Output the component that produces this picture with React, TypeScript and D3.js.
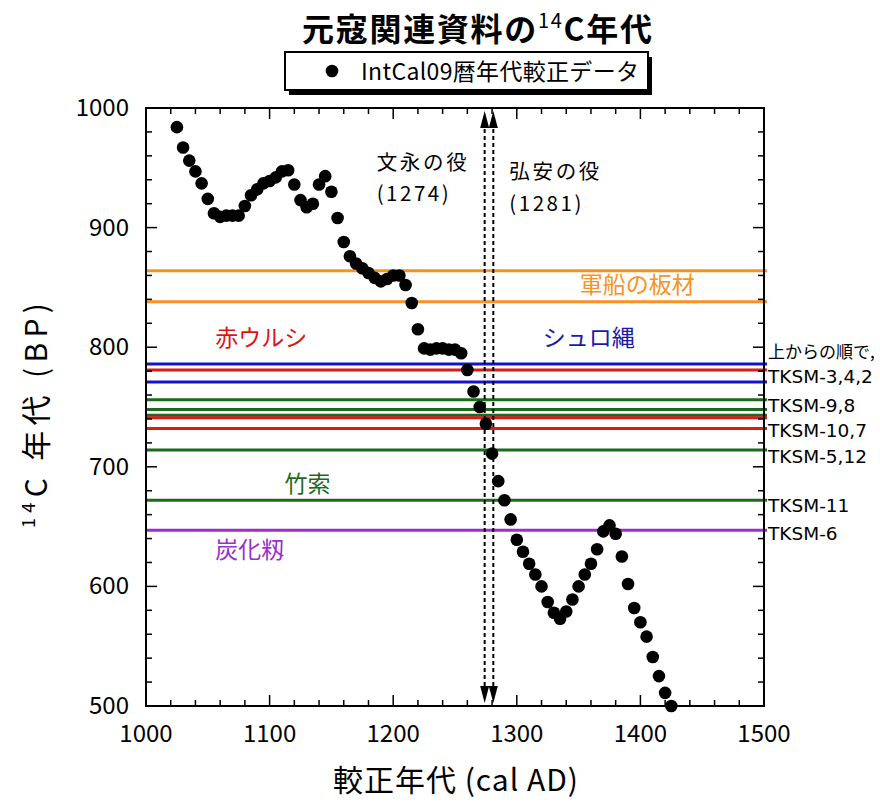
import React from 'react';
import * as d3 from 'd3';

// IntCal09 calibration points (cal AD, 14C BP)
const calYears = [
  1025, 1030, 1035, 1040, 1045, 1050, 1055, 1060, 1065, 1070, 1075, 1080, 1085, 1090, 1095, 1100,
  1105, 1110, 1115, 1120, 1125, 1130, 1135, 1140, 1145, 1150, 1155, 1160, 1165, 1170, 1175, 1180,
  1185, 1190, 1195, 1200, 1205, 1210, 1215, 1220, 1225, 1230, 1235, 1240, 1245, 1250, 1255, 1260,
  1265, 1270, 1275, 1280, 1285, 1290, 1295, 1300, 1305, 1310, 1315, 1320, 1325, 1330, 1335, 1340,
  1345, 1350, 1355, 1360, 1365, 1370, 1375, 1380, 1385, 1390, 1395, 1400, 1405, 1410, 1415, 1420,
  1425,
];
const bpValues = [
  984, 967, 956, 947, 937, 924, 912, 909, 910, 910, 910, 918, 927, 932, 937, 939,
  942, 947, 948, 936, 923, 917, 920, 936, 943, 930, 908, 888, 876, 870, 866, 862,
  858, 855, 857, 860, 860, 852, 837, 815, 799, 798, 799, 799, 798, 798, 795, 781,
  763, 750, 736, 711, 688, 672, 656, 639, 629, 619, 610, 600, 587, 578, 573, 579,
  589, 600, 610, 619, 631, 646, 651, 644, 625, 602, 582, 570, 558, 541, 525, 511,
  500,
];

// sample 14C ages by material
const shipPlank = [864, 838];
const palmRope = [786, 771];
const redLacquer = [781, 741, 732];
const bambooRope = [756, 748, 743, 714, 672];
const charredRice = [647];

// battles (cal AD)
const battleYears = [1274, 1281];
const battleNames = ['文永の役', '弘安の役'];

// right-hand labels: text and the BP level they sit at
const sideNote = '上からの順で,';
const sideLabels = ['TKSM-3,4,2', 'TKSM-9,8', 'TKSM-10,7', 'TKSM-5,12', 'TKSM-11', 'TKSM-6'];
const sideLabelBP = [770, 746, 725, 703, 662, 639];

const xTicks = [1000, 1100, 1200, 1300, 1400, 1500];
const yTicks = [500, 600, 700, 800, 900, 1000];

const FONT = "'Noto Sans CJK JP', 'Noto Sans', sans-serif";

const left = 146, right = 764, top = 108, bottom = 706;

export default function App() {
  const x = d3.scaleLinear().domain([1000, 1500]).range([left, right]);
  const y = d3.scaleLinear().domain([500, 1000]).range([bottom, top]);

  const minorX = d3.range(1000, 1501, 20);
  const minorY = d3.range(500, 1001, 20);

  const groups = [
    { vals: shipPlank, color: '#f7931e', text: '#f7931e', name: '軍船の板材', at: [1351, 845] },
    { vals: palmRope, color: '#1515c8', text: '#1a1aa8', name: 'シュロ縄', at: [1321, 801] },
    { vals: bambooRope, color: '#1c6b1c', text: '#1c6b1c', name: '竹索', at: [1112, 679] },
    { vals: redLacquer, color: '#e01818', text: '#dd1414', name: '赤ウルシ', at: [1056, 801] },
    { vals: charredRice, color: '#9a2fd0', text: '#9a2fd0', name: '炭化籾', at: [1056, 624] },
  ];

  return (
    <div style={{ position: 'absolute', left: 0, top: 0 }}>
      <svg width={880} height={805} style={{ display: 'block', fontFamily: FONT }}>
        <rect width={880} height={805} fill="#fff" />

        {/* title */}
        <text x={302} y={41} fontSize={32} fontWeight="bold" fill="#000" textLength={350} lengthAdjust="spacing">
          元寇関連資料の<tspan fontSize={20} fontWeight="normal" dy={-13}>14</tspan>
          <tspan dy={13}>C年代</tspan>
        </text>

        {/* legend */}
        <rect x={289} y={57} width={363} height={38} fill="#000" />
        <rect x={285} y={52} width={363} height={38} fill="#fff" stroke="#000" strokeWidth={2} />
        <circle cx={332} cy={71} r={6.3} fill="#000" />
        <text x={361} y={80} fontSize={23} fill="#000" textLength={278} lengthAdjust="spacing">IntCal09暦年代較正データ</text>

        {/* horizontal sample lines */}
        {groups.map((g) =>
          g.vals.map((v, i) => (
            <line key={g.name + i} x1={left} x2={right + 3} y1={y(v)} y2={y(v)} stroke={g.color} strokeWidth={3} />
          ))
        )}
        {groups.map((g) => (
          <text key={g.name} x={x(g.at[0])} y={y(g.at[1])} fontSize={23} fill={g.text}>
            {g.name}
          </text>
        ))}

        {/* battle markers */}
        {battleYears.map((yr) => (
          <g key={yr}>
            <line x1={x(yr)} x2={x(yr)} y1={top + 14} y2={bottom - 14} stroke="#000" strokeWidth={2} strokeDasharray="4,3" />
            <path d={`M${x(yr)},${top + 3} L${x(yr) - 4.5},${top + 20} L${x(yr) + 4.5},${top + 20} Z`} fill="#000" />
            <path d={`M${x(yr)},${bottom - 3} L${x(yr) - 4.5},${bottom - 20} L${x(yr) + 4.5},${bottom - 20} Z`} fill="#000" />
          </g>
        ))}
        <text x={x(battleYears[0]) - 108} y={170} fontSize={20.5} fill="#000" textLength={90} lengthAdjust="spacing">{battleNames[0]}</text>
        <text x={x(battleYears[0]) - 108} y={201} fontSize={20.5} fill="#000" textLength={72} lengthAdjust="spacing">({battleYears[0]})</text>
        <text x={x(battleYears[1]) + 16} y={179} fontSize={20.5} fill="#000" textLength={90} lengthAdjust="spacing">{battleNames[1]}</text>
        <text x={x(battleYears[1]) + 16} y={211} fontSize={20.5} fill="#000" textLength={72} lengthAdjust="spacing">({battleYears[1]})</text>

        {/* data points */}
        {calYears.map((yr, i) => (
          <circle key={yr} cx={x(yr)} cy={y(bpValues[i])} r={6.3} fill="#000" />
        ))}

        {/* frame and ticks */}
        <rect x={left} y={top} width={right - left} height={bottom - top} fill="none" stroke="#000" strokeWidth={2} />
        {minorX.map((t) => {
          const len = t % 100 === 0 ? 11 : 6;
          return (
            <g key={'x' + t}>
              <line x1={x(t)} x2={x(t)} y1={bottom} y2={bottom - len} stroke="#000" strokeWidth={1.5} />
              <line x1={x(t)} x2={x(t)} y1={top} y2={top + len} stroke="#000" strokeWidth={1.5} />
            </g>
          );
        })}
        {minorY.map((t) => {
          const len = t % 100 === 0 ? 11 : 6;
          return (
            <g key={'y' + t}>
              <line x1={left} x2={left + len} y1={y(t)} y2={y(t)} stroke="#000" strokeWidth={1.5} />
              <line x1={right} x2={right - len} y1={y(t)} y2={y(t)} stroke="#000" strokeWidth={1.5} />
            </g>
          );
        })}
        {xTicks.map((t) => (
          <text key={'xl' + t} x={x(t)} y={742} textAnchor="middle" fontSize={24} fill="#000">{t}</text>
        ))}
        {yTicks.map((t) => (
          <text key={'yl' + t} x={129} y={y(t) + 8} textAnchor="end" fontSize={24} fill="#000">{t}</text>
        ))}

        {/* right-side labels */}
        <text x={right + 4} y={y(791)} fontSize={17} fill="#000">{sideNote}</text>
        {sideLabels.map((s, i) => (
          <text key={s} x={right + 4} y={y(sideLabelBP[i])} fontSize={18.5} fontFamily="'DejaVu Sans', sans-serif" fill="#000">{s}</text>
        ))}

        {/* axis titles */}
        <text x={333} y={791} fontSize={30} fill="#000" textLength={245} lengthAdjust="spacing">較正年代 (cal AD)</text>
        <text transform="translate(47,528) rotate(-90)" fontSize={30} fill="#000" textLength={225} lengthAdjust="spacing">
          <tspan fontSize={18} dy={-12}>14</tspan>
          <tspan dy={12}>C 年代 (BP)</tspan>
        </text>
      </svg>
    </div>
  );
}
